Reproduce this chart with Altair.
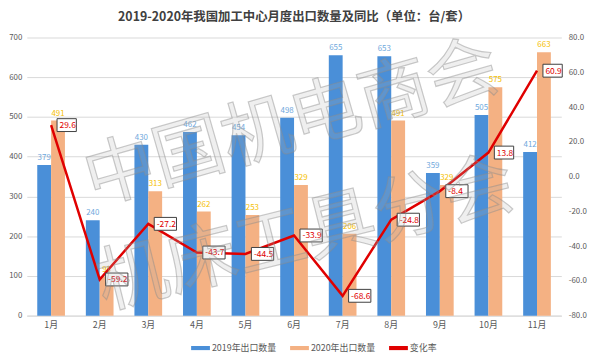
import altair as alt
import pandas as pd

months = ['1月', '2月', '3月', '4月', '5月', '6月', '7月', '8月', '9月', '10月', '11月']
v2019 = [379, 240, 430, 462, 454, 498, 655, 653, 359, 505, 412]
v2020 = [491, 98, 313, 262, 253, 329, 206, 491, 329, 575, 663]
change = [29.6, -59.2, -27.2, -43.7, -44.5, -33.9, -68.6, -24.8, -8.4, 13.8, 60.9]
series = ['2019年出口数量', '2020年出口数量']
line_name = '变化率'
title = '2019-2020年我国加工中心月度出口数量及同比（单位：台/套）'
watermark = ['中国机电商会', '机床工具分会']

FONT = 'Noto Sans CJK SC'
BLUE = '#4A8FD8'
ORANGE = '#F4B183'
RED = '#E00000'

bars_df = pd.DataFrame(
    [{'month': m, 'series': series[0], 'value': a} for m, a in zip(months, v2019)]
    + [{'month': m, 'series': series[1], 'value': b} for m, b in zip(months, v2020)]
)
line_df = pd.DataFrame({'month': months, 'change': change,
                        'label': [f'{c:.1f}' for c in change]})

x_enc = alt.X('month:N', sort=months,
              scale=alt.Scale(paddingInner=0.43, paddingOuter=0.215),
              axis=alt.Axis(title=None, labelAngle=0, labelFontSize=9, labelColor='#595959',
                            labelFont=FONT, ticks=False, domainColor='#D9D9D9', labelPadding=5))
xoff = alt.XOffset('series:N', sort=series)

y_left = alt.Y('value:Q', scale=alt.Scale(domain=[0, 700]),
               axis=alt.Axis(title=None, orient='left', values=list(range(0, 701, 100)),
                             labelFontSize=8, labelColor='#595959', labelFont=FONT,
                             ticks=False, domain=False, gridColor='#D9D9D9', labelPadding=5))

legend = alt.Legend(title=None, orient='none', legendX=166, legendY=304, direction='horizontal',
                    symbolType='M-1,-0.22H1V0.22H-1Z', symbolSize=361, symbolStrokeWidth=0,
                    labelFontSize=9, labelColor='#595959', labelFont=FONT, columnPadding=14,
                    labelOffset=2)
color_scale = alt.Scale(domain=series + [line_name], range=[BLUE, ORANGE, RED])

bars = alt.Chart(bars_df).mark_bar().encode(
    x=x_enc, xOffset=xoff, y=y_left,
    color=alt.Color('series:N', scale=color_scale, legend=legend),
)
bar_labels = alt.Chart(bars_df).mark_text(dy=-3, baseline='bottom', fontSize=8, font=FONT).encode(
    x=x_enc, xOffset=xoff, y=y_left,
    text=alt.Text('value:Q'),
    fill=alt.Fill('series:N', scale=alt.Scale(domain=series, range=['#6FA8DC', '#F5C000']), legend=None),
)
left = alt.layer(bars, bar_labels)

y_right = alt.Y('change:Q', scale=alt.Scale(domain=[-80, 80]),
                axis=alt.Axis(title=None, orient='right', values=list(range(-80, 81, 20)),
                              labelExpr="replace(format(datum.value, '.1f'), '\u2212', '-')",
                              labelFontSize=8, labelColor='#595959', labelFont=FONT,
                              ticks=False, domain=False, grid=False, labelPadding=7))

line = alt.Chart(line_df).mark_line(strokeWidth=2.5).encode(
    x=x_enc, y=y_right,
    color=alt.ColorDatum(line_name),
)
boxes = alt.Chart(line_df).mark_point(filled=True, fill='white', stroke='#404040', strokeWidth=1,
                                      opacity=1, size=400).encode(
    x=x_enc, y=y_right,
    shape=alt.condition('datum.change < 0',
                        alt.value('M0.6,-0.65H2.85V0.65H0.6Z'),
                        alt.value('M0.6,-0.65H2.55V0.65H0.6Z')),
)
box_text = alt.Chart(line_df).mark_text(align='left', dx=8.5, fontSize=8.5, font=FONT, color=RED).encode(
    x=x_enc, y=y_right,
    text=alt.Text('label:N'),
)
right = alt.layer(line, boxes, box_text)

wm_df = pd.DataFrame({'t': watermark, 'row': [0, 1]})
wm_style = dict(fontSize=72, font=FONT, fill='#B0B0B0', fillOpacity=0.2,
                stroke='#8C8C8C', strokeWidth=1.2, strokeOpacity=0.45,
                align='center', baseline='middle')
wm1 = alt.Chart(wm_df).transform_filter('datum.row == 0').mark_text(angle=344, **wm_style).encode(
    text='t:N', x=alt.value(268), y=alt.value(88))
wm2 = alt.Chart(wm_df).transform_filter('datum.row == 1').mark_text(angle=346, **wm_style).encode(
    text='t:N', x=alt.value(282), y=alt.value(200))

chart = alt.layer(left, right, wm1, wm2).resolve_scale(y='independent').properties(
    width=540, height=281,
    autosize=alt.AutoSizeParams(type='none'),
    padding={'left': 19, 'top': 28, 'right': 30, 'bottom': 40},
    title=alt.TitleParams(title, fontSize=12.5, font=FONT, fontWeight='bold', color='#404040',
                          anchor='middle', offset=8),
).configure_view(stroke=None)

chart.save('out.html', embed_options={'renderer': 'svg', 'actions': False})
